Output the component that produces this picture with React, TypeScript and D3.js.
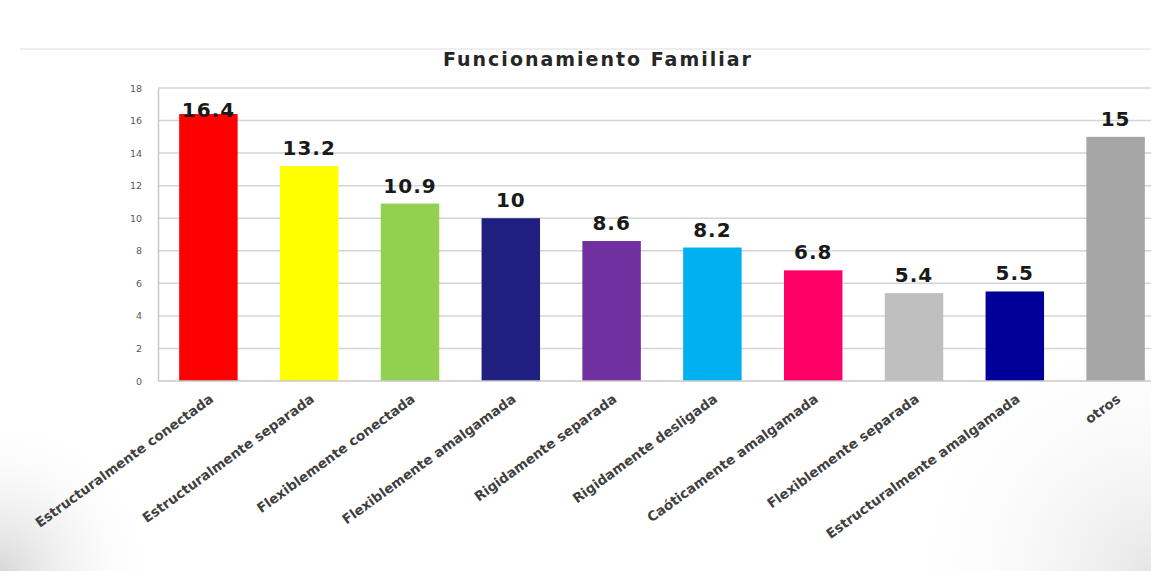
import React, { useEffect, useRef } from "react";
import * as d3 from "d3";

const categories = [
  "Estructuralmente conectada",
  "Estructuralmente separada",
  "Flexiblemente conectada",
  "Flexiblemente amalgamada",
  "Rigidamente separada",
  "Rigidamente desligada",
  "Caóticamente amalgamada",
  "Flexiblemente separada",
  "Estructuralmente amalgamada",
  "otros",
];
const values = [16.4, 13.2, 10.9, 10, 8.6, 8.2, 6.8, 5.4, 5.5, 15];
const valueLabels = ["16.4", "13.2", "10.9", "10", "8.6", "8.2", "6.8", "5.4", "5.5", "15"];
const barColors = [
  "#ff0000",
  "#ffff00",
  "#92d050",
  "#1f1f80",
  "#7030a0",
  "#00b0f0",
  "#ff0066",
  "#bfbfbf",
  "#000099",
  "#a6a6a6",
];
const yTicks = [0, 2, 4, 6, 8, 10, 12, 14, 16, 18];

const App: React.FC = () => {
  const ref = useRef<SVGSVGElement>(null);

  useEffect(() => {
    if (!ref.current) return;
    const width = 1151;
    const height = 571;
    const margin = { top: 88, left: 158, bottom: 190 };
    const plotW = 1008; // runs past the right edge like the original
    const innerH = height - margin.top - margin.bottom;

    const svg = d3.select(ref.current);
    svg.selectAll("*").remove();

    // background with faint corner shading
    const defs = svg.append("defs");
    const grad = defs
      .append("radialGradient")
      .attr("id", "corner")
      .attr("gradientUnits", "userSpaceOnUse")
      .attr("cx", 0)
      .attr("cy", height)
      .attr("r", 160);
    grad.append("stop").attr("offset", "0%").attr("stop-color", "#d8d8d8");
    grad.append("stop").attr("offset", "100%").attr("stop-color", "#ffffff").attr("stop-opacity", 0);
    const grad2 = defs
      .append("radialGradient")
      .attr("id", "corner2")
      .attr("gradientUnits", "userSpaceOnUse")
      .attr("cx", width)
      .attr("cy", height)
      .attr("r", 260);
    grad2.append("stop").attr("offset", "0%").attr("stop-color", "#e6e6e6");
    grad2.append("stop").attr("offset", "100%").attr("stop-color", "#ffffff").attr("stop-opacity", 0);

    svg.append("rect").attr("width", width).attr("height", height).attr("fill", "#ffffff");
    svg.append("rect").attr("width", width).attr("height", height).attr("fill", "url(#corner)");
    svg.append("rect").attr("width", width).attr("height", height).attr("fill", "url(#corner2)");
    svg
      .append("line")
      .attr("x1", 20)
      .attr("x2", width)
      .attr("y1", 49)
      .attr("y2", 49)
      .attr("stroke", "#eeeeee")
      .attr("stroke-width", 2);

    const x = d3
      .scaleBand<string>()
      .domain(categories)
      .range([margin.left, margin.left + plotW])
      .paddingInner(0.42)
      .paddingOuter(0.21);
    const y = d3
      .scaleLinear()
      .domain([0, 18])
      .range([margin.top + innerH, margin.top]);

    // title
    svg
      .append("text")
      .attr("x", 598)
      .attr("y", 66)
      .attr("text-anchor", "middle")
      .attr("font-family", "'DejaVu Sans', Verdana, sans-serif")
      .attr("font-weight", "bold")
      .attr("font-size", 19)
      .attr("letter-spacing", 2)
      .attr("fill", "#262626")
      .text("Funcionamiento Familiar");

    // gridlines
    svg
      .append("g")
      .selectAll("line")
      .data(yTicks.filter((d) => d > 0))
      .enter()
      .append("line")
      .attr("x1", margin.left)
      .attr("x2", margin.left + plotW)
      .attr("y1", (d) => y(d))
      .attr("y2", (d) => y(d))
      .attr("stroke", "#d4d4d4")
      .attr("stroke-width", 1.5);

    // y axis
    const yAxis = svg
      .append("g")
      .attr("transform", `translate(${margin.left},0)`)
      .call(d3.axisLeft(y).tickValues(yTicks).tickSize(0).tickPadding(16));
    yAxis.select(".domain").attr("stroke", "#c8c8c8").attr("stroke-width", 1.5);
    yAxis
      .selectAll("text")
      .attr("font-family", "'DejaVu Sans', sans-serif")
      .attr("font-size", 9.5)
      .attr("fill", "#595959");

    // bars
    svg
      .append("g")
      .selectAll("rect")
      .data(values)
      .enter()
      .append("rect")
      .attr("x", (_, i) => x(categories[i])!)
      .attr("y", (d) => y(d))
      .attr("width", x.bandwidth())
      .attr("height", (d) => y(0) - y(d))
      .attr("fill", (_, i) => barColors[i]);

    // x axis baseline
    svg
      .append("line")
      .attr("x1", margin.left)
      .attr("x2", margin.left + plotW)
      .attr("y1", y(0))
      .attr("y2", y(0))
      .attr("stroke", "#c8c8c8")
      .attr("stroke-width", 1.5);

    // value labels (kept inside the plot top, so the tallest one overlaps its bar)
    svg
      .append("g")
      .selectAll("text")
      .data(values)
      .enter()
      .append("text")
      .attr("x", (_, i) => x(categories[i])! + x.bandwidth() / 2)
      .attr("y", (d) => Math.max(y(d) - 11, margin.top + 29))
      .attr("text-anchor", "middle")
      .attr("font-family", "'DejaVu Sans', Verdana, sans-serif")
      .attr("font-weight", "bold")
      .attr("font-size", 20)
      .attr("letter-spacing", 1)
      .attr("fill", "#1a1a1a")
      .text((_, i) => valueLabels[i]);

    // category labels
    svg
      .append("g")
      .selectAll("text")
      .data(categories)
      .enter()
      .append("text")
      .attr("transform", (d) => {
        const cx = x(d)! + x.bandwidth() / 2 + 6;
        return `translate(${cx},${y(0) + 20}) rotate(-36)`;
      })
      .attr("text-anchor", "end")
      .attr("font-family", "'DejaVu Sans', Verdana, sans-serif")
      .attr("font-weight", "bold")
      .attr("font-size", 13.5)
      .attr("fill", "#404040")
      .text((d) => d);
  }, []);

  return (
    <svg
      ref={ref}
      width={1151}
      height={571}
      style={{ display: "block", position: "absolute", left: 0, top: 0 }}
    />
  );
};

export default App;
